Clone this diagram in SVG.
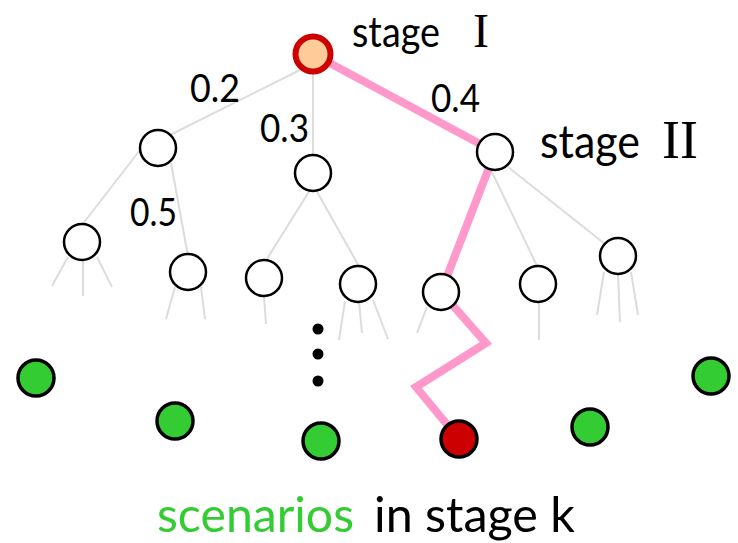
<svg xmlns="http://www.w3.org/2000/svg" width="738" height="543" viewBox="0 0 738 543">
  <style>
    .edge { stroke: #dcdcdc; stroke-width: 2; fill: none; stroke-linecap: butt; }
    .path { stroke: #ff99cc; stroke-width: 8; fill: none; stroke-linejoin: miter; }
    .node { fill: #ffffff; stroke: #000000; stroke-width: 2.5; }
    .leaf { fill: #33cc33; stroke: #000000; stroke-width: 3.5; }
    .num { font-family: Lato, "Open Sans", sans-serif; font-size: 38px; fill: #000000; }
    .lbl { font-family: Lato, "Open Sans", sans-serif; fill: #000000; }
    .lbl.green { fill: #33cc33; }
    .roman { font-family: "Liberation Serif", "Times New Roman", serif; fill: #000000; }
  </style>

  <!-- tree connectors -->
  <g id="connectors">
    <!-- stage I to stage II -->
    <line class="edge" x1="300" y1="70" x2="170" y2="135"/>
    <line class="edge" x1="313" y1="72" x2="313" y2="158"/>
    <line class="edge" x1="491" y1="170" x2="538" y2="268"/>
    <line class="edge" x1="508" y1="167" x2="605" y2="244"/>
    <!-- stage II to stage III -->
    <line class="edge" x1="140" y1="150" x2="82" y2="225"/>
    <line class="edge" x1="171" y1="163" x2="188" y2="256"/>
    <line class="edge" x1="310" y1="190" x2="265" y2="262"/>
    <line class="edge" x1="316" y1="190" x2="360" y2="268"/>
    <!-- stubs below stage III -->
    <line class="edge" x1="68" y1="257" x2="52" y2="286"/>
    <line class="edge" x1="83" y1="260" x2="83" y2="296"/>
    <line class="edge" x1="97" y1="257" x2="112" y2="287"/>
    <line class="edge" x1="175" y1="287" x2="166" y2="319"/>
    <line class="edge" x1="201" y1="287" x2="205" y2="319"/>
    <line class="edge" x1="264" y1="297" x2="266" y2="324"/>
    <line class="edge" x1="345" y1="301" x2="339" y2="340"/>
    <line class="edge" x1="359" y1="302" x2="362" y2="333"/>
    <line class="edge" x1="373" y1="300" x2="388" y2="339"/>
    <line class="edge" x1="427" y1="307" x2="417" y2="333"/>
    <line class="edge" x1="539" y1="302" x2="539" y2="340"/>
    <line class="edge" x1="604" y1="272" x2="597" y2="315"/>
    <line class="edge" x1="618" y1="275" x2="620" y2="322"/>
    <line class="edge" x1="631" y1="272" x2="638" y2="315"/>
    <!-- highlighted scenario path -->
    <polyline class="path" points="313,54 495,152 441,292 486,343 416,387 459,439"/>
  </g>

  <!-- root -->
  <g id="root">
    <circle cx="313" cy="54" r="17.5" fill="#ffcc99" stroke="#cc0000" stroke-width="6"/>
  </g>

  <!-- stage II nodes -->
  <g id="n-a"><circle class="node" cx="158" cy="148" r="18"/></g>
  <g id="n-b"><circle class="node" cx="313" cy="173" r="18"/></g>
  <g id="n-c"><circle class="node" cx="495" cy="152" r="18"/></g>

  <!-- stage III nodes -->
  <g id="n-d"><circle class="node" cx="82" cy="242" r="18"/></g>
  <g id="n-e"><circle class="node" cx="188" cy="272" r="18"/></g>
  <g id="n-f"><circle class="node" cx="264" cy="278" r="18"/></g>
  <g id="n-g"><circle class="node" cx="358" cy="284" r="18"/></g>
  <g id="n-h"><circle class="node" cx="441" cy="292" r="18"/></g>
  <g id="n-i"><circle class="node" cx="538" cy="284" r="18"/></g>
  <g id="n-j"><circle class="node" cx="618" cy="256" r="18"/></g>

  <!-- ellipsis -->
  <g id="dots" fill="#000000">
    <circle cx="318" cy="329" r="5.5"/>
    <circle cx="318" cy="354" r="5.5"/>
    <circle cx="318" cy="381" r="5.5"/>
  </g>

  <!-- stage k scenarios -->
  <g id="s1"><circle class="leaf" cx="36" cy="378" r="18"/></g>
  <g id="s2"><circle class="leaf" cx="175" cy="421" r="18"/></g>
  <g id="s3"><circle class="leaf" cx="321" cy="441" r="18"/></g>
  <g id="s4"><circle cx="459" cy="439" r="18" fill="#cc0000" stroke="#000000" stroke-width="3.5"/></g>
  <g id="s5"><circle class="leaf" cx="590" cy="427" r="18"/></g>
  <g id="s6"><circle class="leaf" cx="711" cy="376" r="18"/></g>

  <!-- probabilities -->
  <g id="probs">
    <text class="num" x="190" y="102" textLength="50" lengthAdjust="spacingAndGlyphs">0.2</text>
    <text class="num" x="260" y="142" textLength="49" lengthAdjust="spacingAndGlyphs">0.3</text>
    <text class="num" x="130" y="226" textLength="47" lengthAdjust="spacingAndGlyphs">0.5</text>
    <text class="num" x="431" y="112" textLength="49" lengthAdjust="spacingAndGlyphs">0.4</text>
  </g>

  <!-- stage labels -->
  <g id="labels">
    <text class="lbl" x="352" y="47" font-size="43" textLength="88" lengthAdjust="spacingAndGlyphs">stage</text>
    <text class="roman" x="473" y="47" font-size="48">I</text>
    <text class="lbl" x="540" y="158" font-size="47" textLength="100" lengthAdjust="spacingAndGlyphs">stage</text>
    <text class="roman" x="662" y="158" font-size="54">II</text>
    <text class="lbl green" x="157" y="532" font-size="49" textLength="197" lengthAdjust="spacingAndGlyphs">scenarios</text>
    <text class="lbl" x="374" y="532" font-size="49" textLength="201" lengthAdjust="spacingAndGlyphs">in stage k</text>
  </g>
</svg>
